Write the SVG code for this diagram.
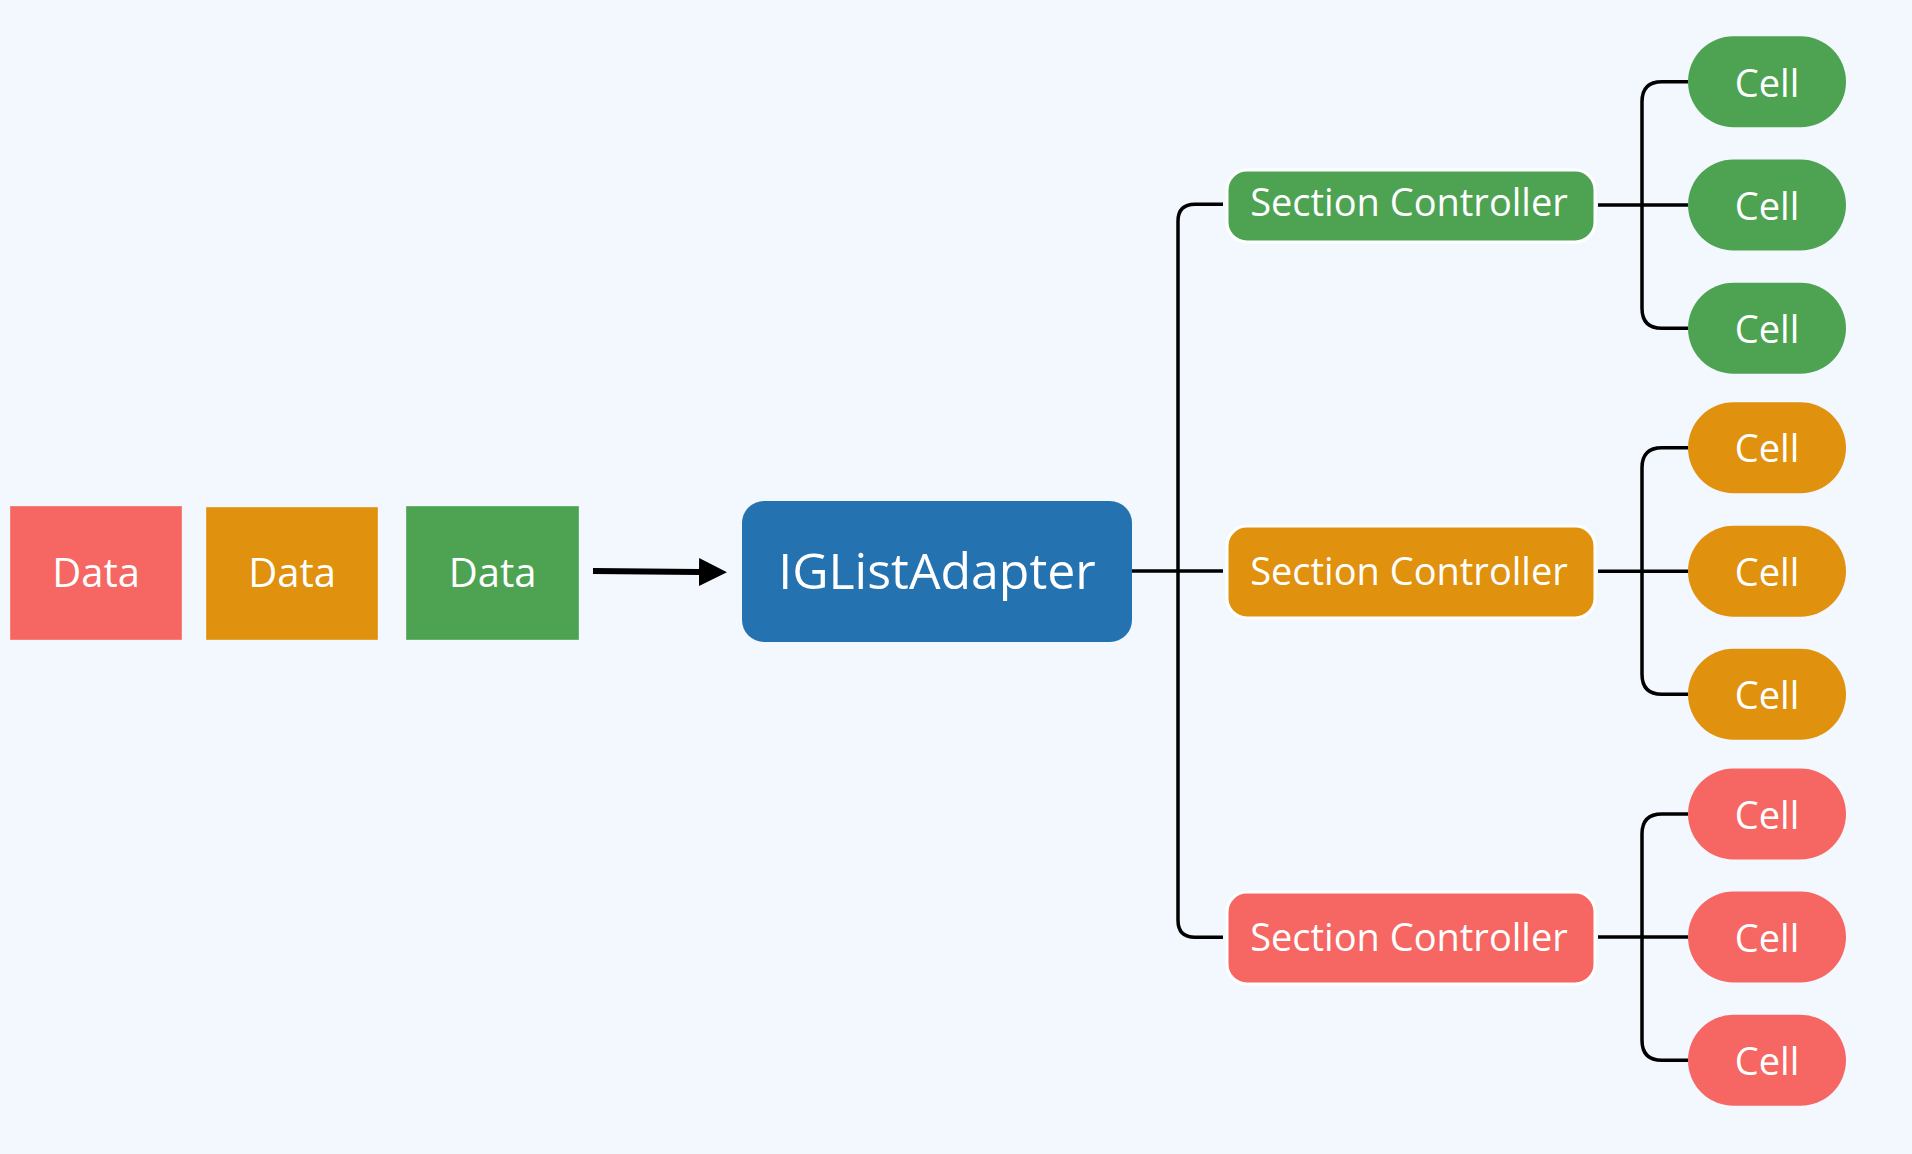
<svg xmlns="http://www.w3.org/2000/svg" width="1912" height="1154" viewBox="0 0 1912 1154">
<defs>
<style>
.bg{fill:#f3f8fe}
.t{font-family:"Open Sans","Noto Sans","DejaVu Sans",sans-serif;fill:#ffffff;text-anchor:middle}
.data{stroke:#ffffff;stroke-opacity:0.35;stroke-width:1}
.sc{stroke:#ffffff;stroke-width:3}
.red{fill:#f66662}
.org{fill:#e0910e}
.grn{fill:#4da352}
.blue{fill:#2572b0}
.ln{fill:none;stroke:#000000;stroke-width:3.5}
.arr{fill:none;stroke:#000000;stroke-width:6}
.f40{font-size:40px}
.f50{font-size:50px}
.f38{font-size:38px}
</style>
<marker id="ah" markerUnits="userSpaceOnUse" markerWidth="28" markerHeight="28" refX="0" refY="14" orient="auto" viewBox="0 0 28 28">
<path d="M0,0 L28,14 L0,28 Z" fill="#000000"/>
</marker>
</defs>
<rect class="bg" x="0" y="0" width="1912" height="1154"/>

<g id="connectors">
<line class="arr" x1="593" y1="571" x2="699" y2="572" marker-end="url(#ah)"/>
<path class="ln" d="M1223,204.3 H1195 Q1178,204.3 1178,221.3 V920.3 Q1178,937.3 1195,937.3 H1223"/>
<path class="ln" d="M1132,571 H1223"/>
<path class="ln" d="M1688,81.7 H1662 Q1642,81.7 1642,101.7 V308.3 Q1642,328.3 1662,328.3 H1688"/>
<path class="ln" d="M1598,205 H1688"/>
<path class="ln" d="M1688,447.8 H1662 Q1642,447.8 1642,467.8 V674.3 Q1642,694.3 1662,694.3 H1688"/>
<path class="ln" d="M1598,571.2 H1688"/>
<path class="ln" d="M1688,814 H1662 Q1642,814 1642,834 V1040.3 Q1642,1060.3 1662,1060.3 H1688"/>
<path class="ln" d="M1598,937 H1688"/>
</g>

<g id="data-red"><rect class="data red" x="10" y="506" width="172" height="134"/><text class="t f40" x="96" y="586.7">Data</text></g>
<g id="data-orange"><rect class="data org" x="206" y="507" width="172" height="133"/><text class="t f40" x="292" y="586.7">Data</text></g>
<g id="data-green"><rect class="data grn" x="406" y="506" width="173" height="134"/><text class="t f40" x="492.5" y="586.7">Data</text></g>

<g id="adapter"><rect class="blue" x="742" y="501" width="390" height="141" rx="22"/><text class="t f50" x="937" y="589.3">IGListAdapter</text></g>

<g id="sc-green"><rect class="sc grn" x="1227" y="170" width="368" height="72" rx="20"/><text class="t f38" x="1409" y="215.5">Section Controller</text></g>
<g id="sc-orange"><rect class="sc org" x="1227" y="526" width="368" height="92" rx="20"/><text class="t f38" x="1409" y="584.5">Section Controller</text></g>
<g id="sc-red"><rect class="sc red" x="1227" y="892" width="368" height="92" rx="20"/><text class="t f38" x="1409" y="950.5">Section Controller</text></g>

<g id="cell-g1"><rect class="grn" x="1688" y="36.2" width="158" height="91" rx="45.5"/><text class="t f38" x="1767" y="96.5">Cell</text></g>
<g id="cell-g2"><rect class="grn" x="1688" y="159.5" width="158" height="91" rx="45.5"/><text class="t f38" x="1767" y="219.8">Cell</text></g>
<g id="cell-g3"><rect class="grn" x="1688" y="282.8" width="158" height="91" rx="45.5"/><text class="t f38" x="1767" y="343.1">Cell</text></g>

<g id="cell-o1"><rect class="org" x="1688" y="402.3" width="158" height="91" rx="45.5"/><text class="t f38" x="1767" y="462.4">Cell</text></g>
<g id="cell-o2"><rect class="org" x="1688" y="525.7" width="158" height="91" rx="45.5"/><text class="t f38" x="1767" y="585.8">Cell</text></g>
<g id="cell-o3"><rect class="org" x="1688" y="648.8" width="158" height="91" rx="45.5"/><text class="t f38" x="1767" y="708.9">Cell</text></g>

<g id="cell-r1"><rect class="red" x="1688" y="768.5" width="158" height="91" rx="45.5"/><text class="t f38" x="1767" y="828.6">Cell</text></g>
<g id="cell-r2"><rect class="red" x="1688" y="891.5" width="158" height="91" rx="45.5"/><text class="t f38" x="1767" y="951.6">Cell</text></g>
<g id="cell-r3"><rect class="red" x="1688" y="1014.8" width="158" height="91" rx="45.5"/><text class="t f38" x="1767" y="1074.9">Cell</text></g>
</svg>
